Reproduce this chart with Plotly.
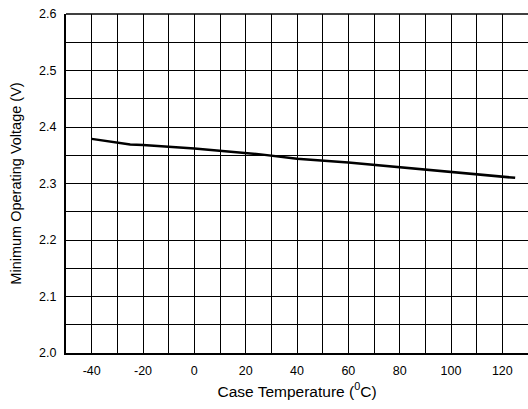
import plotly.graph_objects as go

temps = [-40, -30, -25, -20, 0, 25, 40, 60, 80, 100, 120, 125]
volts = [2.379, 2.373, 2.369, 2.368, 2.362, 2.352, 2.344, 2.337, 2.329, 2.320, 2.312, 2.310]

x_ticks = [-40, -20, 0, 20, 40, 60, 80, 100, 120]
y_ticks = [2.0, 2.1, 2.2, 2.3, 2.4, 2.5, 2.6]
y_labels = ["2.0", "2.1", "2.2", "2.3", "2.4", "2.5", "2.6"]

fig = go.Figure()
fig.add_trace(go.Scatter(x=temps, y=volts, mode="lines",
                         line=dict(color="black", width=2.5), showlegend=False))

font = dict(family="Liberation Sans, Arial, sans-serif", color="black")
fig.update_layout(
    width=528, height=409,
    margin=dict(l=66, r=0, t=14, b=56),
    paper_bgcolor="white", plot_bgcolor="white",
    font=dict(size=12, **font),
    xaxis=dict(range=[-50, 130], tickvals=x_ticks, ticktext=[str(v) for v in x_ticks],
               showgrid=True, gridcolor="black", gridwidth=1,
               minor=dict(dtick=10, tick0=0, showgrid=True, gridcolor="black", gridwidth=1),
               showline=True, linecolor="black", linewidth=2, zeroline=False,
               ticks="", tickfont=dict(size=12.5), ticklabelstandoff=5,
               title=dict(text="Case Temperature (<sup>0</sup>C)", font=dict(size=15.5), standoff=9)),
    yaxis=dict(range=[2.0, 2.6], tickvals=y_ticks, ticktext=y_labels,
               showgrid=True, gridcolor="black", gridwidth=1,
               minor=dict(dtick=0.05, tick0=2.0, showgrid=True, gridcolor="black", gridwidth=1),
               showline=True, linecolor="black", linewidth=2, zeroline=False,
               ticks="", tickfont=dict(size=12.5), ticklabelstandoff=5,
               title=dict(text="Minimum Operating Voltage (V)", font=dict(size=14.5), standoff=14)),
)
fig.add_shape(type="line", xref="paper", yref="paper", x0=0, x1=1, y0=1, y1=1,
              line=dict(color="black", width=1.5))
fig.write_html("out.html")
